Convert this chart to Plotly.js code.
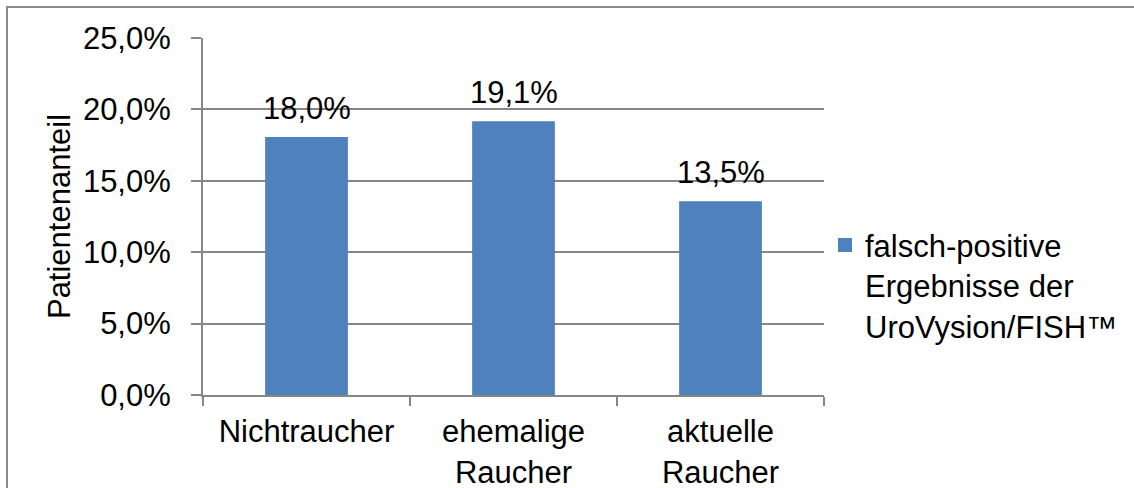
<!DOCTYPE html>
<html>
<head>
<meta charset="utf-8">
<script src="https://cdn.plot.ly/plotly-3.0.1.min.js"></script>
<style>
  html, body { margin: 0; padding: 0; background: #ffffff; }
  #wrap { position: relative; width: 1134px; height: 488px; overflow: hidden; }
  #chart { width: 1134px; height: 488px; }
  #frame {
    position: absolute; left: 6px; top: 6px; right: -10px; bottom: -10px;
    border-top: 2px solid #8a8a8a; border-left: 2px solid #8a8a8a;
    pointer-events: none;
  }
</style>
</head>
<body>
<div id="wrap">
  <div id="chart"></div>
  <div id="frame"></div>
</div>
<script>
// Smoker groups and share of patients with false-positive results (in percent)
const categories = ['Nichtraucher', 'ehemalige<br>Raucher', 'aktuelle<br>Raucher'];
const falsePositiveShare = [18.0, 19.1, 13.5];
const seriesName = 'falsch-positive<br>Ergebnisse der<br>UroVysion/FISH™';
const yTickValues = [0, 5, 10, 15, 20, 25];
const yTickLabels = ['0,0%', '5,0%', '10,0%', '15,0%', '20,0%', '25,0%'];

const FONT = '"Liberation Sans", Arial, sans-serif';
const BAR_COLOR = '#4f81bd';
const GRID_COLOR = '#868686';

function formatPercent(v) {
  return v.toFixed(1).replace('.', ',') + '%';
}

const trace = {
  type: 'bar',
  x: categories,
  y: falsePositiveShare,
  name: seriesName,
  width: 0.39,
  marker: { color: BAR_COLOR, line: { color: BAR_COLOR, width: 2 } },
  hoverinfo: 'none',
  showlegend: true
};

// Value labels sitting above each bar
const valueLabels = categories.map((c, i) => ({
  x: c,
  y: falsePositiveShare[i],
  xref: 'x',
  yref: 'y',
  text: formatPercent(falsePositiveShare[i]),
  showarrow: false,
  yanchor: 'bottom',
  yshift: 10,
  font: { family: FONT, size: 31, color: '#000000' }
}));

const layout = {
  width: 1134,
  height: 488,
  margin: { l: 203, r: 309, t: 38, b: 93 },
  paper_bgcolor: '#ffffff',
  plot_bgcolor: '#ffffff',
  font: { family: FONT, size: 31, color: '#000000' },
  showlegend: true,
  xaxis: {
    type: 'category',
    range: [-0.5, 2.5],
    showline: true,
    linecolor: GRID_COLOR,
    linewidth: 2,
    ticks: 'outside',
    tickson: 'boundaries',
    ticklen: 9,
    tickwidth: 2,
    tickcolor: GRID_COLOR,
    showgrid: false,
    ticklabelstandoff: 8,
    tickfont: { family: FONT, size: 31, color: '#000000' },
    fixedrange: true
  },
  yaxis: {
    range: [0, 25],
    tickmode: 'array',
    tickvals: yTickValues,
    ticktext: yTickLabels,
    showline: true,
    linecolor: GRID_COLOR,
    linewidth: 2,
    ticks: 'outside',
    ticklen: 10,
    tickwidth: 2,
    tickcolor: GRID_COLOR,
    showgrid: true,
    gridcolor: GRID_COLOR,
    gridwidth: 2,
    zeroline: false,
    ticklabelstandoff: 14,
    tickfont: { family: FONT, size: 31, color: '#000000' },
    title: {
      text: 'Patientenanteil',
      font: { family: FONT, size: 31, color: '#000000' },
      standoff: 3
    },
    fixedrange: true
  },
  legend: {
    x: 1.0,
    xanchor: 'left',
    y: 0.495,
    yanchor: 'top',
    valign: 'top',
    bgcolor: 'rgba(0,0,0,0)',
    font: { family: FONT, size: 31, color: '#000000' },
    itemclick: false,
    itemdoubleclick: false
  },
  annotations: valueLabels
};

Plotly.newPlot('chart', [trace], layout, { displayModeBar: false, staticPlot: true });
</script>
</body>
</html>
